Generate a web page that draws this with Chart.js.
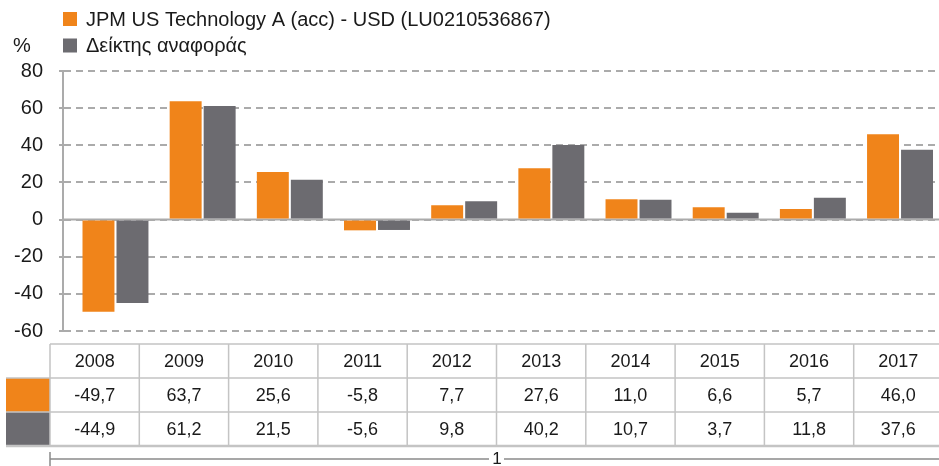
<!DOCTYPE html>
<html>
<head>
<meta charset="utf-8">
<script src="https://cdn.jsdelivr.net/npm/chart.js@4.4.1/dist/chart.umd.min.js"></script>
<style>
  html, body { margin: 0; padding: 0; background: #fff; }
  #wrap { width: 939px; height: 466px; }
</style>
</head>
<body>
<div id="wrap"><canvas id="grafico" width="939" height="466"></canvas></div>
<script>
// datos
var years = ["2008", "2009", "2010", "2011", "2012", "2013", "2014", "2015", "2016", "2017"];
var fundLabel = "JPM US Technology A (acc) - USD (LU0210536867)";
var benchLabel = "Δείκτης αναφοράς";
var fundValues = [-49.7, 63.7, 25.6, -5.8, 7.7, 27.6, 11.0, 6.6, 5.7, 46.0];
var benchValues = [-44.9, 61.2, 21.5, -5.6, 9.8, 40.2, 10.7, 3.7, 11.8, 37.6];
var yTicks = [80, 60, 40, 20, 0, -20, -40, -60];

var ORANGE = "#f0841a";
var GREY = "#6c6b70";
var FONT = "'Liberation Sans', Arial, sans-serif";

function fmt(v) {
    return v.toFixed(1).replace(".", ",");
}

// dibuja leyenda, linea del cero y la tabla de datos
var extras = {
    id: "extras",
    beforeDatasetsDraw: function (chart) {
        var ctx = chart.ctx;
        var y0 = chart.scales.y.getPixelForValue(0);
        ctx.save();
        ctx.strokeStyle = "#ababab";
        ctx.lineWidth = 2;
        ctx.beginPath();
        ctx.moveTo(63, y0);
        ctx.lineTo(939, y0);
        ctx.stroke();
        ctx.restore();
    },
    afterDraw: function (chart) {
        var ctx = chart.ctx;
        ctx.save();
        ctx.textBaseline = "middle";
        ctx.font = "20px " + FONT;
        ctx.fillStyle = "#1a1a1a";

        // leyenda
        var ds = chart.data.datasets;
        var ly = [19, 45.5];
        for (var i = 0; i < ds.length; i++) {
            ctx.fillStyle = ds[i].backgroundColor;
            ctx.fillRect(63, ly[i] - 7, 14, 14);
            ctx.fillStyle = "#1a1a1a";
            ctx.textAlign = "left";
            ctx.fillText(ds[i].label, 86, ly[i] + 1);
        }
        ctx.fillText("%", 13, 46);

        // tabla
        var left = 50, colW = 89.3;
        var rows = [344, 378, 412, 446];
        ctx.fillStyle = ORANGE;
        ctx.fillRect(6, rows[1], left - 6, rows[2] - rows[1]);
        ctx.fillStyle = GREY;
        ctx.fillRect(6, rows[2], left - 6, rows[3] - rows[2]);

        ctx.strokeStyle = "#c4c4c4";
        ctx.lineWidth = 1.5;
        ctx.beginPath();
        for (var r = 0; r < rows.length; r++) {
            var x1 = r === 0 ? left : 6;
            ctx.moveTo(x1, rows[r]);
            ctx.lineTo(939, rows[r]);
        }
        for (var c = 0; c <= years.length; c++) {
            var cx = left + c * colW;
            ctx.moveTo(cx, rows[0]);
            ctx.lineTo(cx, rows[3]);
        }
        ctx.stroke();
        ctx.lineWidth = 2.5;
        ctx.beginPath();
        ctx.moveTo(6, rows[3]);
        ctx.lineTo(939, rows[3]);
        ctx.stroke();

        ctx.font = "18px " + FONT;
        ctx.fillStyle = "#1a1a1a";
        ctx.textAlign = "center";
        for (var k = 0; k < years.length; k++) {
            var mx = left + (k + 0.5) * colW;
            ctx.fillText(years[k], mx, (rows[0] + rows[1]) / 2 + 1);
            ctx.fillText(fmt(fundValues[k]), mx, (rows[1] + rows[2]) / 2 + 1);
            ctx.fillText(fmt(benchValues[k]), mx, (rows[2] + rows[3]) / 2 + 1);
        }

        // linea inferior con "1"
        ctx.strokeStyle = "#8a8a8a";
        ctx.lineWidth = 1.5;
        ctx.beginPath();
        ctx.moveTo(50, 452);
        ctx.lineTo(50, 466);
        ctx.moveTo(50, 459);
        ctx.lineTo(489, 459);
        ctx.moveTo(504, 459);
        ctx.lineTo(939, 459);
        ctx.stroke();
        ctx.font = "17px " + FONT;
        ctx.fillText("1", 497, 459);
        ctx.restore();
    }
};

var ctx = document.getElementById("grafico").getContext("2d");
var chart = new Chart(ctx, {
    type: "bar",
    data: {
        datasets: [
            {
                label: fundLabel,
                backgroundColor: ORANGE,
                data: fundValues.map(function (v, i) { return { x: i, y: v }; }),
            },
            {
                label: benchLabel,
                backgroundColor: GREY,
                data: benchValues.map(function (v, i) { return { x: i, y: v }; }),
            },
        ],
    },
    options: {
        responsive: false,
        animation: false,
        devicePixelRatio: 1,
        layout: { padding: { left: 0, right: 0, top: 71, bottom: 135 } },
        categoryPercentage: 0.78,
        barPercentage: 0.94,
        plugins: { legend: { display: false }, tooltip: { enabled: false } },
        scales: {
            x: {
                type: "linear",
                display: false,
                offset: false,
                bounds: "data",
                min: -0.602,
                max: 9.447,
                grid: { offset: false },
                // un tick por año para que el ancho de barra salga bien
                afterBuildTicks: function (scale) {
                    scale.ticks = years.map(function (y, i) { return { value: i }; });
                },
            },
            y: {
                min: -60,
                max: 80,
                afterFit: function (scale) { scale.width = 63; },
                afterBuildTicks: function (scale) {
                    scale.ticks = yTicks.map(function (v) { return { value: v }; });
                },
                ticks: {
                    color: "#1a1a1a",
                    font: { family: FONT, size: 20 },
                    padding: 16,
                },
                grid: {
                    color: "#ababab",
                    lineWidth: 2,
                    tickLength: 4,
                    tickColor: "#ababab",
                    tickBorderDash: [7, 5],
                },
                border: {
                    display: true,
                    color: "#ababab",
                    width: 2,
                    dash: [7, 5],
                },
            },
        },
    },
    plugins: [extras],
});
</script>
</body>
</html>
